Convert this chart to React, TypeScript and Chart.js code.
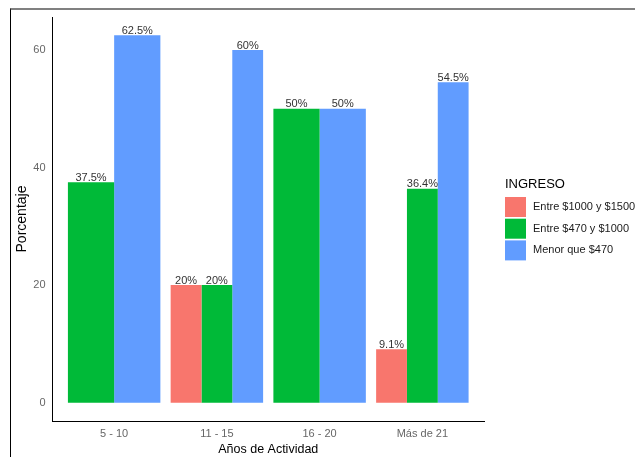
import React, { useEffect, useRef } from "react";
import { Chart, registerables } from "chart.js";

Chart.register(...registerables);

const categories = ["5 - 10", "11 - 15", "16 - 20", "Más de 21"];
const seriesNames = ["Entre $1000 y $1500", "Entre $470 y $1000", "Menor que $470"];
const seriesColors = ["#F8766D", "#00BA38", "#619CFF"];
const highIncome: (number | null)[] = [null, 20, null, 9.1];
const midIncome: (number | null)[] = [37.5, 20, 50, 36.4];
const lowIncome: (number | null)[] = [62.5, 60, 50, 54.5];
const yTicks = [0, 20, 40, 60];
const FONT = "'Liberation Sans', Arial, sans-serif";

const labelPlugin = {
  id: "barLabels",
  afterDatasetsDraw(chart: any) {
    const ctx = chart.ctx;
    ctx.save();
    ctx.font = `11px ${FONT}`;
    ctx.fillStyle = "#333333";
    ctx.textAlign = "center";
    ctx.textBaseline = "alphabetic";
    chart.data.datasets.forEach((ds: any, di: number) => {
      const meta = chart.getDatasetMeta(di);
      meta.data.forEach((el: any, i: number) => {
        const v = ds.data[i].y;
        if (v === null || v === undefined) return;
        ctx.fillText(`${v}%`, el.x, el.y - 1.5);
      });
    });
    ctx.restore();
  },
};

const legendPlugin = {
  id: "sideLegend",
  afterDraw(chart: any) {
    const ctx = chart.ctx;
    const x0 = chart.chartArea.right + 21;
    ctx.save();
    ctx.fillStyle = "#000000";
    ctx.font = `13px ${FONT}`;
    ctx.textAlign = "left";
    ctx.textBaseline = "alphabetic";
    ctx.fillText("INGRESO", x0, 178);
    const keyTop = 187;
    const step = 21.7;
    const size = 20;
    chart.data.datasets.forEach((ds: any, i: number) => {
      const y = keyTop + i * step;
      ctx.fillStyle = ds.backgroundColor;
      ctx.fillRect(x0, y, size + 1, size);
      ctx.fillStyle = "#1a1a1a";
      ctx.font = `11px ${FONT}`;
      ctx.textBaseline = "middle";
      ctx.fillText(ds.label, x0 + 28, y + size / 2);
    });
    ctx.restore();
  },
};

export default function App() {
  const ref = useRef<HTMLCanvasElement | null>(null);
  useEffect(() => {
    if (!ref.current) return;
    const series = [highIncome, midIncome, lowIncome];
    const chart = new Chart(ref.current, {
      type: "bar",
      data: {
        datasets: series.map((vals, si) => ({
          label: seriesNames[si],
          backgroundColor: seriesColors[si],
          borderWidth: 0,
          data: vals.map((v, i) => ({ x: i + 1, y: v })),
          categoryPercentage: 0.9,
          barPercentage: 1,
          skipNull: true,
        })),
      },
      options: {
        animation: false,
        responsive: false,
        maintainAspectRatio: false,
        layout: { padding: { top: 7, right: 151, left: 0, bottom: 0 } },
        plugins: {
          legend: { display: false },
          tooltip: { enabled: false },
        },
        scales: {
          x: {
            type: "linear",
            offset: false,
            min: 0.4,
            max: 4.6,
            grid: { display: false, drawTicks: false },
            border: { display: true, color: "#000000", width: 1 },
            afterBuildTicks: (axis: any) => {
              axis.ticks = categories.map((_, i) => ({ value: i + 1 }));
            },
            afterFit: (axis: any) => {
              axis.height = 36;
              axis.paddingLeft = 0;
              axis.paddingRight = 0;
            },
            ticks: {
              padding: 6.5,
              color: "#666666",
              font: { family: FONT, size: 11 },
              callback: (v: any) => categories[Math.round(v) - 1] ?? "",
              maxRotation: 0,
              autoSkip: false,
            },
            title: {
              display: true,
              text: "Años de Actividad",
              color: "#000000",
              font: { family: FONT, size: 12.5 },
              padding: { top: 0, bottom: 0 },
            },
          },
          y: {
            type: "linear",
            min: -3.125,
            max: 65.625,
            grid: { display: false, drawTicks: false },
            border: { display: true, color: "#000000", width: 1 },
            afterBuildTicks: (axis: any) => {
              axis.ticks = yTicks.map((v) => ({ value: v }));
            },
            afterFit: (axis: any) => {
              axis.width = 41.5;
              axis.paddingTop = 0;
              axis.paddingBottom = 0;
            },
            ticks: {
              padding: 7,
              color: "#666666",
              font: { family: FONT, size: 11 },
            },
            title: {
              display: true,
              text: "Porcentaje",
              color: "#000000",
              font: { family: FONT, size: 14 },
              padding: { top: 2.6, bottom: 0 },
            },
          },
        },
      },
      plugins: [labelPlugin, legendPlugin],
    } as any);
    return () => chart.destroy();
  }, []);

  return (
    <div
      style={{
        position: "fixed",
        left: 10,
        top: 8,
        width: 624,
        height: 447,
        borderTop: "2px solid #808080",
        borderLeft: "1px solid #000000",
        background: "#ffffff",
      }}
    >
      <canvas ref={ref} width={624} height={447} style={{ display: "block", width: 624, height: 447 }} />
    </div>
  );
}
